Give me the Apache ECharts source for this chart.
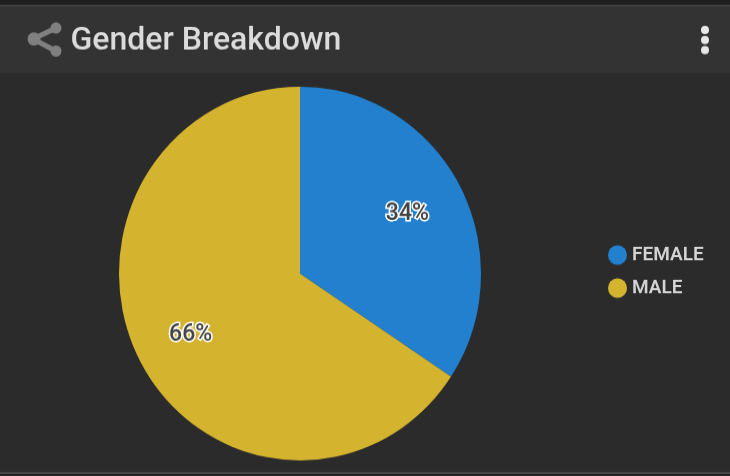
<!DOCTYPE html>
<html><head><meta charset="utf-8">
<style>html,body{margin:0;padding:0;background:#2b2b2b;overflow:hidden;width:730px;height:476px}
#c{width:730px;height:461px;transform-origin:0 0;transform:scaleY(1.0325)}</style>
<script src="https://cdn.jsdelivr.net/npm/echarts@6/dist/echarts.min.js"></script>
</head><body><div id="c"></div>
<script>
const categories = ['FEMALE', 'MALE'];
const values = [34.3, 65.7];
const colors = ['#2280cf', '#d4b42f'];
const titleText = 'Gender Breakdown';
const S = 1.0325;
const Y = y => y / S;
const labelShift = [[25, -13], [-27, 15]];
const chart = echarts.init(document.getElementById('c'), null, {renderer:'canvas'});
chart.setOption({
  animation:false,
  backgroundColor:'#2b2b2b',
  title:{text:titleText,left:65.5,top:Y(20),textStyle:{color:'#dcdcdc',fontFamily:'Roboto',fontSize:32,fontWeight:500}},
  legend:{orient:'vertical',left:603,top:Y(240),icon:'circle',itemWidth:19,itemHeight:19,itemGap:13,
    textStyle:{color:'#d4d4d4',fontFamily:'Roboto',fontSize:19,fontWeight:600,padding:[3,0,0,0]},
    data:categories},
  series:[{type:'pie',center:[300,Y(273.5)],radius:[0,181],startAngle:90,clockwise:true,
    data:categories.map((n,i)=>({name:n,value:values[i],itemStyle:{color:colors[i]}})),
    label:{position:'inside',formatter:p=>Math.round(p.value)+'%',color:'#444444',fontFamily:'Roboto',fontSize:23,fontWeight:500,
      textBorderColor:'#ffffff',textBorderWidth:3},
    labelLayout:p=>({dx:labelShift[p.dataIndex][0],dy:labelShift[p.dataIndex][1]}),
    labelLine:{show:false}}],
  graphic:[
    {type:'rect',z:-1,silent:true,shape:{x:0,y:0,width:730,height:Y(5)},style:{fill:'#1f1f1f'}},
    {type:'rect',z:-1,silent:true,shape:{x:0,y:Y(5),width:730,height:Y(68)},style:{fill:'#333333'}},
    {type:'rect',z:-1,silent:true,shape:{x:0,y:Y(5),width:730,height:1.5},style:{fill:'#454545'}},
    {type:'rect',z:-1,silent:true,shape:{x:0,y:Y(472),width:730,height:2},style:{fill:'#4a4a4a'}},
    {type:'rect',z:-1,silent:true,shape:{x:0,y:Y(474),width:730,height:2},style:{fill:'#222222'}},
    {type:'line',silent:true,shape:{x1:33,y1:Y(39),x2:56,y2:Y(28)},style:{stroke:'#808080',lineWidth:5}},
    {type:'line',silent:true,shape:{x1:33,y1:Y(39),x2:56,y2:Y(51)},style:{stroke:'#808080',lineWidth:5}},
    {type:'circle',silent:true,shape:{cx:34,cy:Y(39),r:6.5},style:{fill:'#808080'}},
    {type:'circle',silent:true,shape:{cx:56,cy:Y(28),r:5.5},style:{fill:'#808080'}},
    {type:'circle',silent:true,shape:{cx:56,cy:Y(51),r:5.5},style:{fill:'#808080'}},
    {type:'circle',silent:true,shape:{cx:705,cy:Y(30),r:4},style:{fill:'#e8e8e8'}},
    {type:'circle',silent:true,shape:{cx:705,cy:Y(40),r:4},style:{fill:'#e8e8e8'}},
    {type:'circle',silent:true,shape:{cx:705,cy:Y(50),r:4},style:{fill:'#e8e8e8'}}
  ]
});
</script></body></html>
